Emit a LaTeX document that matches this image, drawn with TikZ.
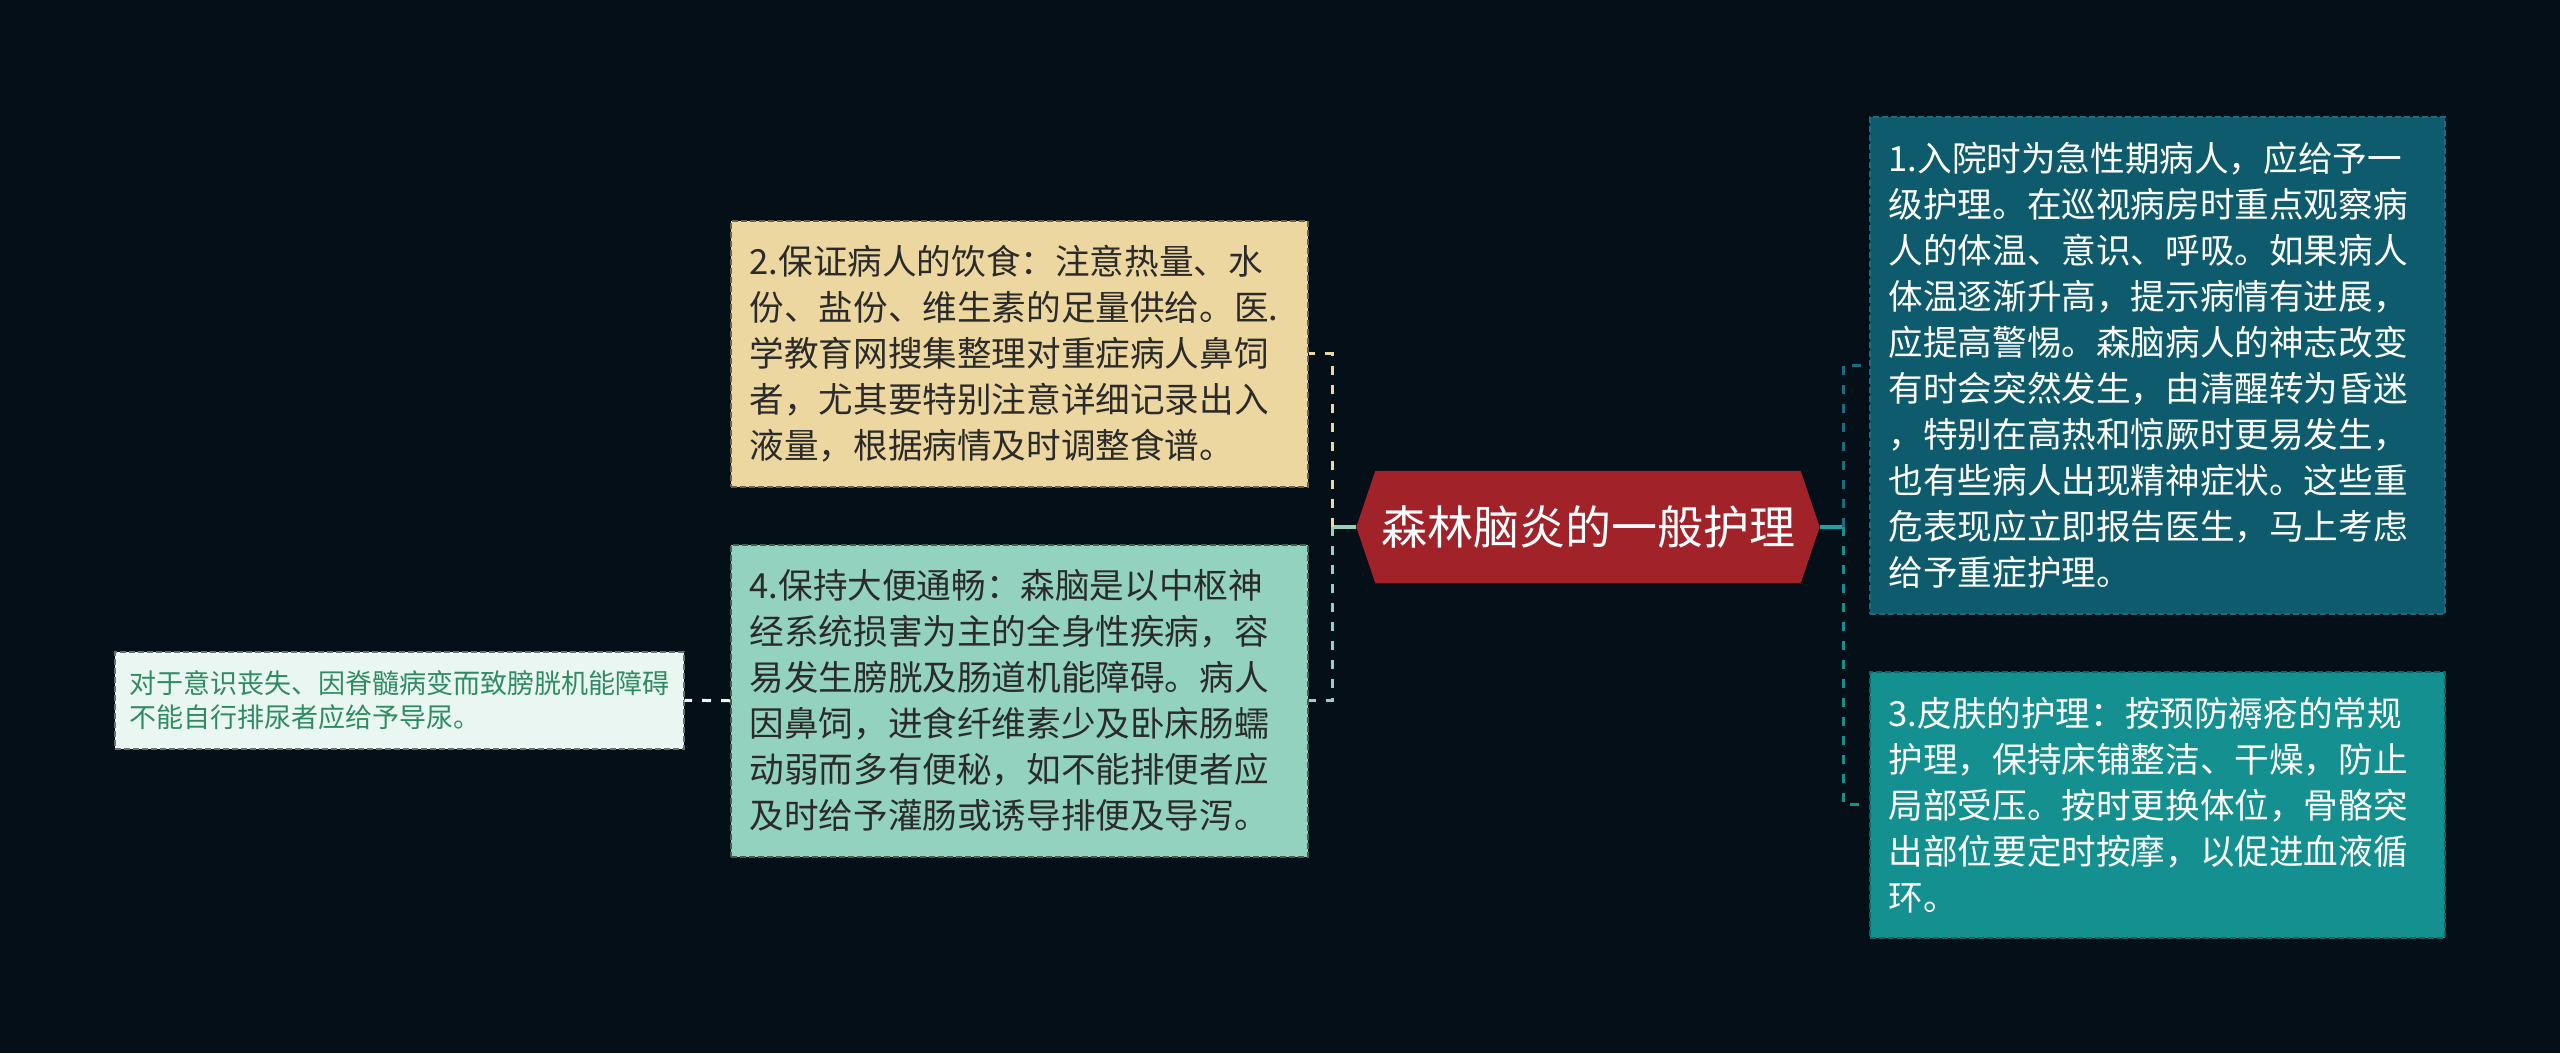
\documentclass[tikz,border=0pt]{standalone}
\usepackage{fontspec}
\newfontfamily\cjk{Noto Sans CJK SC}
\usetikzlibrary{calc}
\definecolor{bg}{HTML}{040F17}
\definecolor{cred}{HTML}{A2222A}
\definecolor{cone}{HTML}{0E5B6D}
\definecolor{conel}{HTML}{1A6D80}
\definecolor{cthree}{HTML}{13908F}
\definecolor{cthreel}{HTML}{1FA2A3}
\definecolor{cbeige}{HTML}{EDD7A0}
\definecolor{cmint}{HTML}{93D2BE}
\definecolor{cpale}{HTML}{EAF6F2}
\definecolor{cgreentext}{HTML}{2F8C62}
\definecolor{cdark}{HTML}{2B2B2B}
\tikzset{
  box/.style={rectangle, anchor=north west, inner xsep=19pt, inner ysep=0pt,
    align=left, font=\cjk\fontsize{34.6}{46}\selectfont,
    line width=1.5pt, dash pattern=on 6pt off 3pt},
  smallbox/.style={box, inner xsep=15pt, font=\cjk\fontsize{27}{34}\selectfont},
  conn/.style={line width=3pt, dash pattern=on 9pt off 10pt},
  stub/.style={line width=3.5pt},
}
\begin{document}
\begin{tikzpicture}[x=1pt,y=-1pt]
\useasboundingbox (0,0) rectangle (2560,1053);
\fill[bg] (0,0) rectangle (2560,1053);

% central topic
\node[rectangle, minimum width=425pt, minimum height=112pt, inner sep=0pt,
      font=\cjk\fontsize{46}{50}\selectfont, text=white] (c) at (1588,527) {};
\coordinate (cL) at ($(c.west)+(-19,0)$);
\coordinate (cR) at ($(c.east)+(19,0)$);
\fill[cred] (c.north west) -- (c.north east) -- (cR) -- (c.south east)
   -- (c.south west) -- (cL) -- cycle;
\node[font=\cjk\fontsize{46}{50}\selectfont, text=white, inner sep=0pt] (ct) at (c.center) {森林脑炎的一般护理};

% right boxes
\node[box, fill=cone, draw=conel, text=white, minimum width=575pt, minimum height=497pt, text width=537pt] (b1) at (1869,116)
{1.入院时为急性期病人，应给予一\\
级护理。在巡视病房时重点观察病\\
人的体温、意识、呼吸。如果病人\\
体温逐渐升高，提示病情有进展，\\
应提高警惕。森脑病人的神志改变\\
有时会突然发生，由清醒转为昏迷\\
，特别在高热和惊厥时更易发生，\\
也有些病人出现精神症状。这些重\\
危表现应立即报告医生，马上考虑\\
给予重症护理。};

\node[box, fill=cthree, draw=cthree!70!black, text=white, minimum width=575pt, minimum height=266pt, text width=537pt] (b3) at (1869,671)
{3.皮肤的护理：按预防褥疮的常规\\
护理，保持床铺整洁、干燥，防止\\
局部受压。按时更换体位，骨骼突\\
出部位要定时按摩，以促进血液循\\
环。};

% left boxes
\node[box, fill=cbeige, draw=cbeige!45!black, text=cdark, minimum width=577pt, minimum height=266pt, text width=539pt] (b2) at (730,220)
{2.保证病人的饮食：注意热量、水\\
份、盐份、维生素的足量供给。医.\\
学教育网搜集整理对重症病人鼻饲\\
者，尤其要特别注意详细记录出入\\
液量，根据病情及时调整食谱。};

\node[box, fill=cmint, draw=cmint!45!black, text=cdark, minimum width=577pt, minimum height=312pt, text width=539pt] (b4) at (730,544)
{4.保持大便通畅：森脑是以中枢神\\
经系统损害为主的全身性疾病，容\\
易发生膀胱及肠道机能障碍。病人\\
因鼻饲，进食纤维素少及卧床肠蠕\\
动弱而多有便秘，如不能排便者应\\
及时给予灌肠或诱导排便及导泻。};

\node[smallbox, fill=cpale, draw=cpale!45!black, text=cgreentext, minimum width=569pt, minimum height=97pt, text width=539pt] (b5) at (114,651)
{对于意识丧失、因脊髓病变而致膀胱机能障碍\\
不能自行排尿者应给予导尿。};

% connectors
\coordinate (tl) at (1332,527);
\coordinate (tr) at (1843,527);
\draw[stub, cmint] (cL) -- (tl);
\draw[conn, cbeige] (tl) |- (b2.east);
\draw[conn, cmint] (tl) |- (b4.east);
\draw[stub, cthreel] (cR) -- (tr);
\draw[conn, conel] (tr) |- (b1.west);
\draw[conn, cthree] (tr) |- (b3.west);
\draw[conn, cpale] (b4.west) -- (b5.east);
\end{tikzpicture}
\end{document}
